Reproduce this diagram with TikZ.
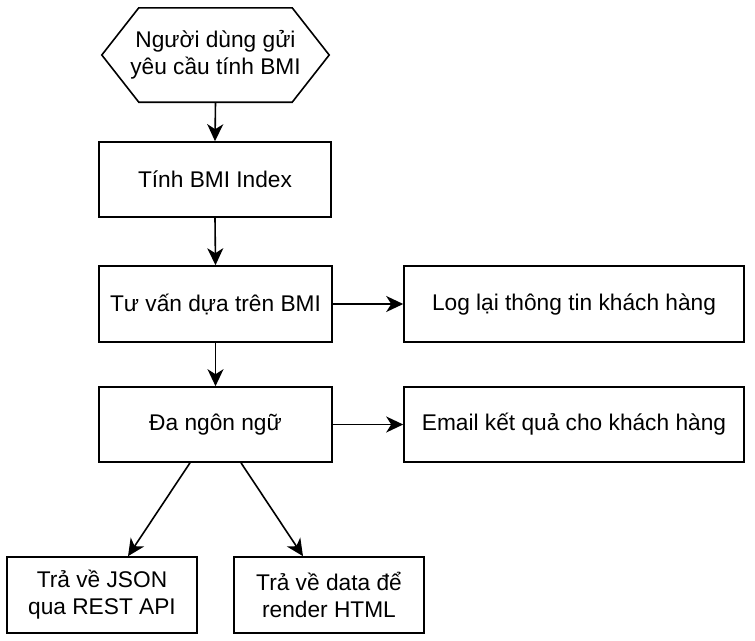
\documentclass[tikz,border=0pt]{standalone}
\usepackage{fontspec}
\setmainfont{Liberation Sans}
\usetikzlibrary{arrows.meta,calc}
\begin{document}
\begin{tikzpicture}[x=1pt,y=-1pt,
  every node/.style={font=\fontsize{22.7}{27}\selectfont, align=center, inner sep=0pt},
  box/.style={draw, line width=1.6pt, minimum width=#1, minimum height=76pt},
  box/.default=233pt,
  conn/.style={line width=1.6pt, -{Stealth[length=17pt,width=16pt,inset=5pt]}}]
\useasboundingbox (0,0) rectangle (755,640);
% hexagon start node
\node[minimum width=227pt, minimum height=94pt] (hex) at (215.5,55) {Người dùng gửi\\yêu cầu tính BMI};
\draw[line width=1.6pt, line join=miter] (hex.west) -- ($(hex.north west)+(37,0)$) -- ($(hex.north east)+(-37,0)$) -- (hex.east) -- ($(hex.south east)+(-37,0)$) -- ($(hex.south west)+(37,0)$) -- cycle;
\node[box=232pt, minimum height=75pt] (b1) at (215,179.5) {Tính BMI Index};
\node[box] (b2) at (215.5,304) {Tư vấn dựa trên BMI};
\node[box, minimum height=75pt] (b4) at (215.5,424.5) {Đa ngôn ngữ};
\node[box=340pt] (log) at (574,304) {Log lại thông tin khách hàng};
\node[box=340pt, minimum height=75pt] (mail) at (574,424.5) {Email kết quả cho khách hàng};
\node[box=190pt] (b6) at (102,595) {Trả về JSON\\qua REST API};
\node[box=190pt] (b7) at (329,595) {Trả về data để\\render HTML};
\draw[conn] (hex.south) -- (b1.north);
\draw[conn] (b1.south) -- (b2.north);
\draw[conn] (b2.south) -- (b4.north);
\draw[conn] (b2.east) -- (log.west);
\draw[conn] (b4.east) -- (mail.west);
\draw[conn] ($(b4.south)+(-25.5,0)$) -- ($(b6.north)+(26,0)$);
\draw[conn] ($(b4.south)+(25.5,0)$) -- ($(b7.north)+(-26,0)$);
\end{tikzpicture}
\end{document}
